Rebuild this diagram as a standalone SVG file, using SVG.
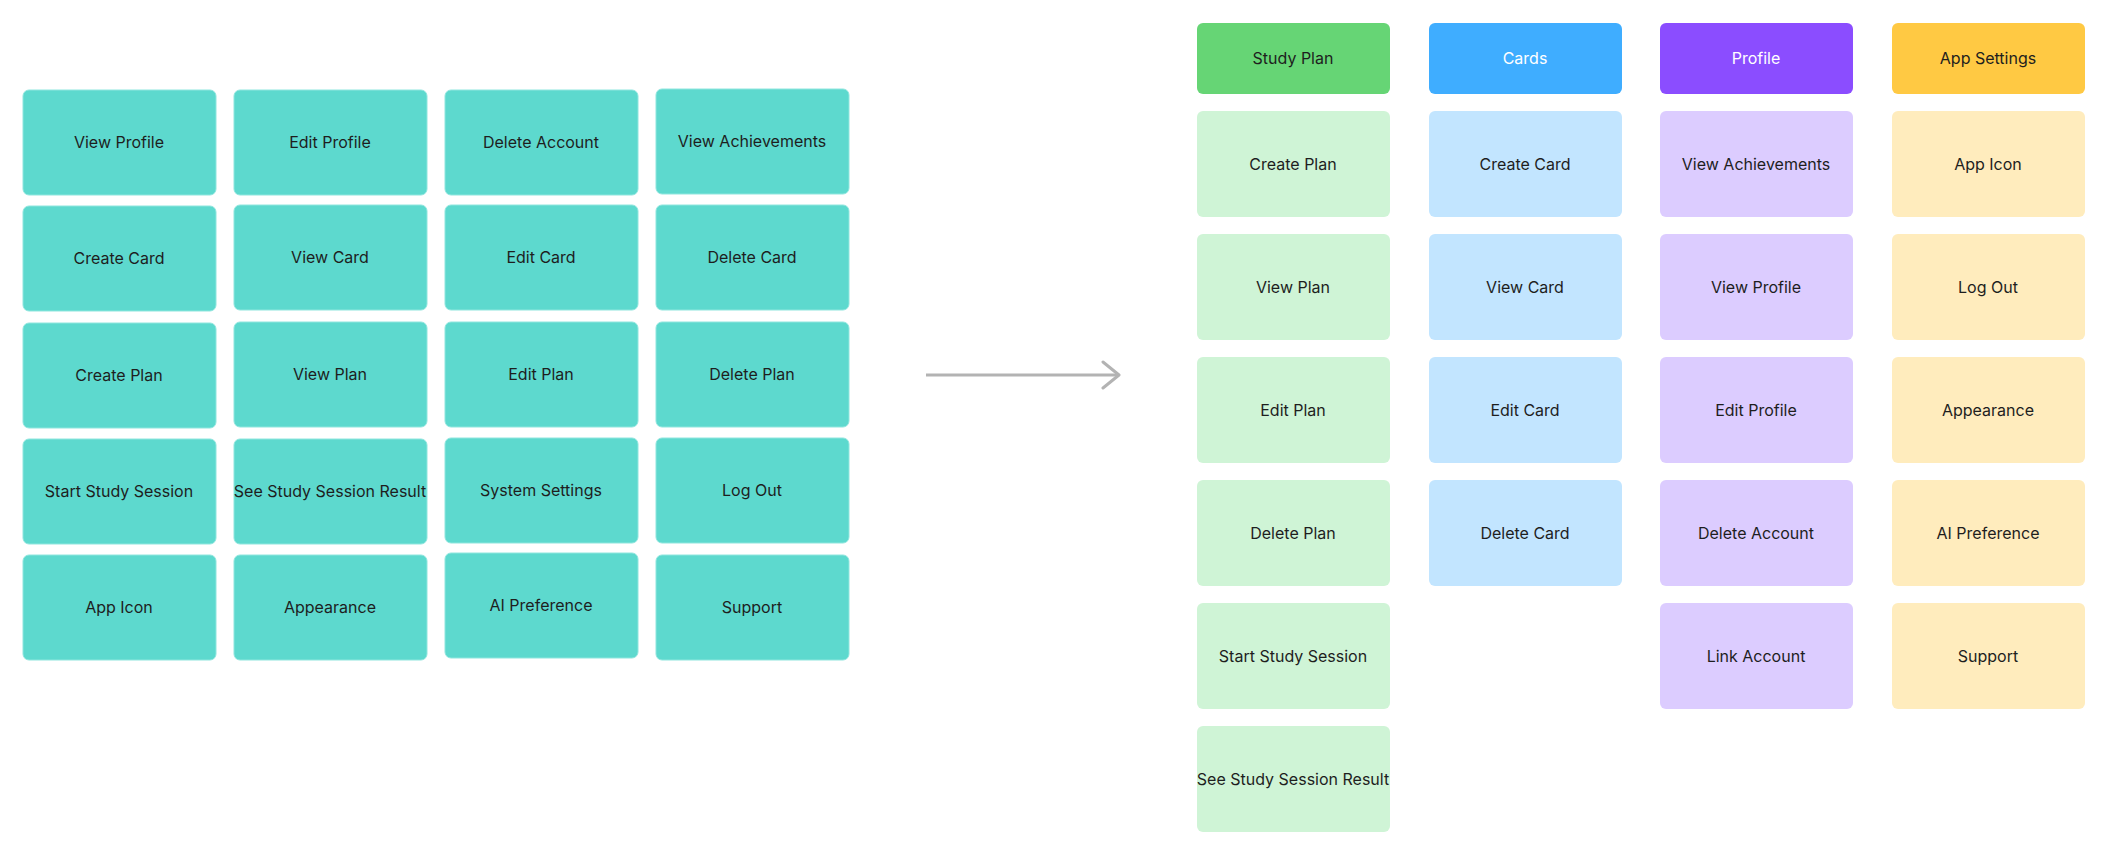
<svg xmlns="http://www.w3.org/2000/svg" width="2110" height="856" viewBox="0 0 2110 856">
<style>
text{font-family:Inter,"Noto Sans",sans-serif;font-size:16px;fill:#1e1e1e;text-anchor:middle;dominant-baseline:central}
.t rect{fill:#5DD9CE;stroke:#8fe6de;stroke-width:1}
.w{fill:#fff}
</style>
<defs><marker id="ah" viewBox="0 0 20 30" markerWidth="20" markerHeight="30" refX="18" refY="15" markerUnits="userSpaceOnUse" orient="auto"><path d="M2 2 L18 15 L2 28" fill="none" stroke="#b3b3b3" stroke-width="3" stroke-linecap="round" stroke-linejoin="round"/></marker></defs>
<rect width="2110" height="856" fill="#fff"/>
<g class="t">
<g id="l1"><rect x="23" y="90" width="193" height="105" rx="6"/><text x="119" y="142">View Profile</text></g>
<g id="l2"><rect x="234" y="90" width="193" height="105" rx="6"/><text x="330" y="142">Edit Profile</text></g>
<g id="l3"><rect x="445" y="90" width="193" height="105" rx="6"/><text x="541" y="142">Delete Account</text></g>
<g id="l4"><rect x="656" y="89" width="193" height="105" rx="6"/><text x="752" y="141">View Achievements</text></g>
<g id="l5"><rect x="23" y="206" width="193" height="105" rx="6"/><text x="119" y="258">Create Card</text></g>
<g id="l6"><rect x="234" y="205" width="193" height="105" rx="6"/><text x="330" y="257">View Card</text></g>
<g id="l7"><rect x="445" y="205" width="193" height="105" rx="6"/><text x="541" y="257">Edit Card</text></g>
<g id="l8"><rect x="656" y="205" width="193" height="105" rx="6"/><text x="752" y="257">Delete Card</text></g>
<g id="l9"><rect x="23" y="323" width="193" height="105" rx="6"/><text x="119" y="375">Create Plan</text></g>
<g id="l10"><rect x="234" y="322" width="193" height="105" rx="6"/><text x="330" y="374">View Plan</text></g>
<g id="l11"><rect x="445" y="322" width="193" height="105" rx="6"/><text x="541" y="374">Edit Plan</text></g>
<g id="l12"><rect x="656" y="322" width="193" height="105" rx="6"/><text x="752" y="374">Delete Plan</text></g>
<g id="l13"><rect x="23" y="439" width="193" height="105" rx="6"/><text x="119" y="491">Start Study Session</text></g>
<g id="l14"><rect x="234" y="439" width="193" height="105" rx="6"/><text x="330" y="491">See Study Session Result</text></g>
<g id="l15"><rect x="445" y="438" width="193" height="105" rx="6"/><text x="541" y="490">System Settings</text></g>
<g id="l16"><rect x="656" y="438" width="193" height="105" rx="6"/><text x="752" y="490">Log Out</text></g>
<g id="l17"><rect x="23" y="555" width="193" height="105" rx="6"/><text x="119" y="607">App Icon</text></g>
<g id="l18"><rect x="234" y="555" width="193" height="105" rx="6"/><text x="330" y="607">Appearance</text></g>
<g id="l19"><rect x="445" y="553" width="193" height="105" rx="6"/><text x="541" y="605">AI Preference</text></g>
<g id="l20"><rect x="656" y="555" width="193" height="105" rx="6"/><text x="752" y="607">Support</text></g>
</g>
<g id="connectors"><line x1="926" y1="375" x2="1119" y2="375" stroke="#b3b3b3" stroke-width="3" marker-end="url(#ah)"/></g>
<g id="h1"><rect x="1197" y="23" width="193" height="71" rx="6" fill="#66D575"/><text x="1293" y="58">Study Plan</text></g>
<g id="h2"><rect x="1429" y="23" width="193" height="71" rx="6" fill="#3FADFF"/><text x="1525" y="58" class="w">Cards</text></g>
<g id="h3"><rect x="1660" y="23" width="193" height="71" rx="6" fill="#8B4DFF"/><text x="1756" y="58" class="w">Profile</text></g>
<g id="h4"><rect x="1892" y="23" width="193" height="71" rx="6" fill="#FFC943"/><text x="1988" y="58">App Settings</text></g>
<g fill="#CFF4D6">
<g id="g1"><rect x="1197" y="111" width="193" height="106" rx="6"/><text x="1293" y="164">Create Plan</text></g>
<g id="g2"><rect x="1197" y="234" width="193" height="106" rx="6"/><text x="1293" y="287">View Plan</text></g>
<g id="g3"><rect x="1197" y="357" width="193" height="106" rx="6"/><text x="1293" y="410">Edit Plan</text></g>
<g id="g4"><rect x="1197" y="480" width="193" height="106" rx="6"/><text x="1293" y="533">Delete Plan</text></g>
<g id="g5"><rect x="1197" y="603" width="193" height="106" rx="6"/><text x="1293" y="656">Start Study Session</text></g>
<g id="g6"><rect x="1197" y="726" width="193" height="106" rx="6"/><text x="1293" y="779">See Study Session Result</text></g>
</g>
<g fill="#C2E5FF">
<g id="b1"><rect x="1429" y="111" width="193" height="106" rx="6"/><text x="1525" y="164">Create Card</text></g>
<g id="b2"><rect x="1429" y="234" width="193" height="106" rx="6"/><text x="1525" y="287">View Card</text></g>
<g id="b3"><rect x="1429" y="357" width="193" height="106" rx="6"/><text x="1525" y="410">Edit Card</text></g>
<g id="b4"><rect x="1429" y="480" width="193" height="106" rx="6"/><text x="1525" y="533">Delete Card</text></g>
</g>
<g fill="#DCCCFF">
<g id="p1"><rect x="1660" y="111" width="193" height="106" rx="6"/><text x="1756" y="164">View Achievements</text></g>
<g id="p2"><rect x="1660" y="234" width="193" height="106" rx="6"/><text x="1756" y="287">View Profile</text></g>
<g id="p3"><rect x="1660" y="357" width="193" height="106" rx="6"/><text x="1756" y="410">Edit Profile</text></g>
<g id="p4"><rect x="1660" y="480" width="193" height="106" rx="6"/><text x="1756" y="533">Delete Account</text></g>
<g id="p5"><rect x="1660" y="603" width="193" height="106" rx="6"/><text x="1756" y="656">Link Account</text></g>
</g>
<g fill="#FFECBD">
<g id="y1"><rect x="1892" y="111" width="193" height="106" rx="6"/><text x="1988" y="164">App Icon</text></g>
<g id="y2"><rect x="1892" y="234" width="193" height="106" rx="6"/><text x="1988" y="287">Log Out</text></g>
<g id="y3"><rect x="1892" y="357" width="193" height="106" rx="6"/><text x="1988" y="410">Appearance</text></g>
<g id="y4"><rect x="1892" y="480" width="193" height="106" rx="6"/><text x="1988" y="533">AI Preference</text></g>
<g id="y5"><rect x="1892" y="603" width="193" height="106" rx="6"/><text x="1988" y="656">Support</text></g>
</g>
</svg>
